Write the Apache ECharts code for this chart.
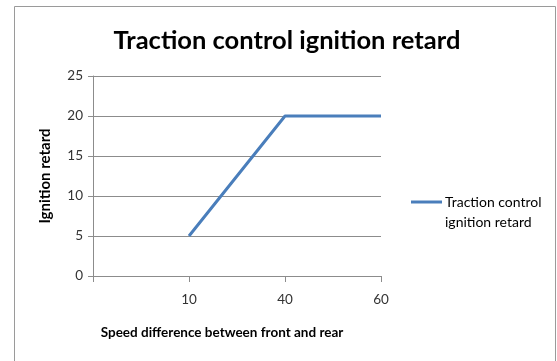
<!DOCTYPE html>
<html>
<head>
<meta charset="utf-8">
<script src="https://cdn.jsdelivr.net/npm/echarts@6/dist/echarts.min.js"></script>
<style>
  html, body { margin: 0; padding: 0; background: #fff; }
  #chart { width: 557px; height: 361px; }
</style>
</head>
<body>
<div id="chart"></div>
<script>
// Speed difference categories (first slot is blank, as in the source sheet)
const categories = ['', '10', '40', '60'];
// Ignition retard for each speed difference
const retardValues = [null, 5, 20, 20];
const seriesName = 'Traction control\nignition retard';
const yTicks = { min: 0, max: 25, interval: 5 };

const FONT = 'Lato, "Open Sans", sans-serif';
const chart = echarts.init(document.getElementById('chart'), null, { renderer: 'canvas' });

chart.setOption({
  backgroundColor: '#ffffff',
  animation: false,
  title: {
    text: 'Traction control ignition retard',
    left: 282, top: 23, textAlign: 'center',
    textStyle: { fontFamily: FONT, fontWeight: 'bold', fontSize: 25.5, color: '#000' }
  },
  graphic: [{
    type: 'rect', silent: true,
    shape: { x: 14.5, y: 6.5, width: 541, height: 370 },
    style: { fill: 'none', stroke: '#9a9a9a', lineWidth: 1 }
  }],
  grid: { left: 93, top: 76, width: 288, height: 200 },
  legend: {
    left: 411, top: 172, orient: 'vertical', padding: 0,
    itemWidth: 31, itemHeight: 3, itemGap: 0,
    icon: 'rect',
    // leading blank line keeps the swatch level with the first text line
    formatter: name => '\n' + name,
    textStyle: { fontFamily: FONT, fontSize: 14, color: '#000', lineHeight: 20, padding: [0, 0, 0, -2] },
    data: [{ name: seriesName }]
  },
  xAxis: {
    type: 'category', data: categories, boundaryGap: false,
    name: 'Speed difference between front and rear',
    nameLocation: 'middle', nameGap: 50,
    nameTextStyle: { fontFamily: FONT, fontWeight: 'bold', fontSize: 13.5, color: '#000', padding: [0, 30, 0, 0] },
    axisLine: { lineStyle: { color: '#8c8c8c' } },
    axisTick: { show: true, length: 6, lineStyle: { color: '#8c8c8c' } },
    axisLabel: { fontFamily: FONT, fontSize: 13.5, color: '#333', margin: 17 },
    splitLine: { show: false }
  },
  yAxis: {
    type: 'value', min: yTicks.min, max: yTicks.max, interval: yTicks.interval,
    name: 'Ignition retard', nameLocation: 'middle', nameGap: 40, nameRotate: 90,
    nameTextStyle: { fontFamily: FONT, fontWeight: 'bold', fontSize: 15, color: '#000' },
    axisLine: { show: true, lineStyle: { color: '#8c8c8c' } },
    axisTick: { show: true, inside: false, length: 5, lineStyle: { color: '#8c8c8c' } },
    axisLabel: { fontFamily: FONT, fontSize: 13.5, color: '#333', margin: 10 },
    splitLine: { show: true, lineStyle: { color: '#8c8c8c', width: 1 } }
  },
  series: [{
    name: seriesName, type: 'line', data: retardValues,
    symbol: 'none', connectNulls: false,
    lineStyle: { color: '#4a7ebb', width: 3 },
    itemStyle: { color: '#4a7ebb' }
  }]
});
</script>
</body>
</html>
